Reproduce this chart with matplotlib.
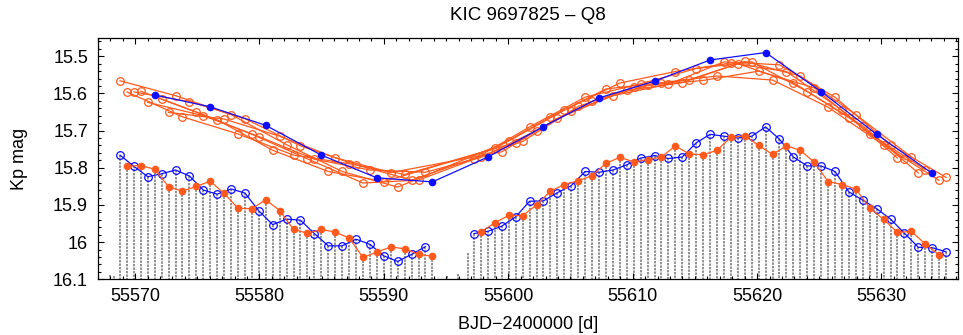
import numpy as np
import matplotlib
matplotlib.use('Agg')
import matplotlib.pyplot as plt
from matplotlib.ticker import MultipleLocator

# Pulsation maxima (Kp mag)
# left segment, cycles 0..45: blue = even cycles, orange = odd cycles
blue_left = [15.766, 15.796, 15.824, 15.816, 15.806, 15.822, 15.860, 15.871,
             15.857, 15.868, 15.916, 15.953, 15.938, 15.941, 15.977, 16.010,
             16.010, 15.992, 16.006, 16.037, 16.052, 16.033, 16.012]
orange_left = [15.796, 15.794, 15.804, 15.851, 15.863, 15.850, 15.836, 15.869,
               15.909, 15.910, 15.886, 15.915, 15.966, 15.976, 15.966, 15.973,
               15.989, 16.041, 16.027, 16.013, 16.018, 16.033, 16.038]
# right segment, cycles 51..119: blue = odd cycles, orange = even cycles
blue_right = [15.977, 15.971, 15.957, 15.932, 15.890, 15.889, 15.867, 15.848,
              15.810, 15.812, 15.806, 15.792, 15.774, 15.767, 15.775, 15.771,
              15.733, 15.710, 15.715, 15.720, 15.715, 15.690, 15.723, 15.771,
              15.795, 15.795, 15.810, 15.865, 15.887, 15.910, 15.938, 15.976,
              16.014, 16.015, 16.026]
orange_right = [15.972, 15.948, 15.928, 15.929, 15.900, 15.863, 15.845, 15.835,
                15.821, 15.788, 15.772, 15.784, 15.778, 15.771, 15.741, 15.763,
                15.765, 15.753, 15.718, 15.714, 15.740, 15.764, 15.741, 15.753,
                15.785, 15.837, 15.845, 15.857, 15.908, 15.939, 15.974, 15.971,
                16.005, 16.034]

# partial light-curve bits (gap and edges)
extra_t = [55568.0, 55568.3, 55595.05, 55595.95, 55596.8]
extra_mag = [16.088, 16.090, 16.090, 16.085, 16.030]

# ephemeris of maxima
T0 = 55568.79
PERIOD = 0.5580
STROBE = 8        # every 8th cycle in the upper strobe curves
SHIFT = 0.2       # upper curves shifted by -0.2 mag
BLUE_PHASE = 5

BLUE = '#0f0fff'
ORANGE = '#ff5a1e'
GREY = '#8f8f8f'

cyc_bl = np.arange(0, 46, 2)
cyc_ol = np.arange(1, 46, 2)
cyc_br = np.arange(51, 120, 2)
cyc_or = np.arange(52, 120, 2)

def to_time(cyc):
    return T0 + PERIOD * cyc

fig = plt.figure(figsize=(9.63, 3.35), dpi=100)
ax = fig.add_axes([0.1015, 0.1663, 0.8933, 0.7212])

# grey light curve columns below each maximum
all_cyc = np.concatenate([cyc_bl, cyc_ol, cyc_br, cyc_or])
all_mag = np.concatenate([blue_left, orange_left, blue_right, orange_right])
ax.vlines(to_time(all_cyc), all_mag, 16.1, colors=GREY,
          linestyles=(0, (1.2, 0.6)), linewidth=1.4, zorder=1)
ax.vlines(extra_t, extra_mag, 16.1, colors=GREY,
          linestyles=(0, (1.2, 0.6)), linewidth=1.4, zorder=1)

# lower series: maxima
for cyc, mag in [(cyc_bl, blue_left), (cyc_br, blue_right)]:
    ax.plot(to_time(cyc), mag, '-o', color=BLUE, lw=0.9, ms=5.5,
            mfc='none', mew=0.9, zorder=3)
for cyc, mag in [(cyc_ol, orange_left), (cyc_or, orange_right)]:
    ax.plot(to_time(cyc), mag, '-o', color=ORANGE, lw=0.9, ms=4.5,
            zorder=4)

# upper series: stroboscopic sampling every 8th cycle
order = np.argsort(all_cyc)
s_cyc = all_cyc[order]
s_mag = all_mag[order] - SHIFT
for k in range(STROBE):
    if k == BLUE_PHASE:
        continue
    sel = s_cyc % STROBE == k
    ax.plot(to_time(s_cyc[sel]), s_mag[sel], '-o', color=ORANGE, lw=0.9,
            ms=5.5, mfc='none', mew=0.9, zorder=3)
sel = s_cyc % STROBE == BLUE_PHASE
ax.plot(to_time(s_cyc[sel]), s_mag[sel], '-o', color=BLUE, lw=0.9,
        ms=4.5, zorder=5)

ax.set_xlim(55567.0, 55636.15)
ax.set_ylim(16.1, 15.45)
ax.xaxis.set_major_locator(MultipleLocator(10))
ax.xaxis.set_minor_locator(MultipleLocator(1))
ax.yaxis.set_minor_locator(MultipleLocator(0.02))
ax.set_yticks([15.5, 15.6, 15.7, 15.8, 15.9, 16.0, 16.1])
ax.set_yticklabels(['15.5', '15.6', '15.7', '15.8', '15.9', '16', '16.1'])

ax.tick_params(which='both', direction='in', top=True, right=True,
               width=0.8, labelsize=13)
ax.tick_params(which='major', length=4)
ax.tick_params(which='minor', length=2.2)
ax.tick_params(axis='y', pad=7)
ax.tick_params(axis='x', pad=6)
for sp in ax.spines.values():
    sp.set_linewidth(0.9)

font = ['Liberation Sans', 'DejaVu Sans']
for lab in ax.get_xticklabels() + ax.get_yticklabels():
    lab.set_family(font)

ax.set_xlabel('BJD\u22122400000 [d]', fontsize=13, family=font, labelpad=8)
ax.set_ylabel('Kp mag', fontsize=13, family=font, labelpad=18)
ax.set_title('KIC 9697825 \u2013 Q8', fontsize=13.5, family=font, pad=13)

fig.savefig('out.png', dpi=100)
